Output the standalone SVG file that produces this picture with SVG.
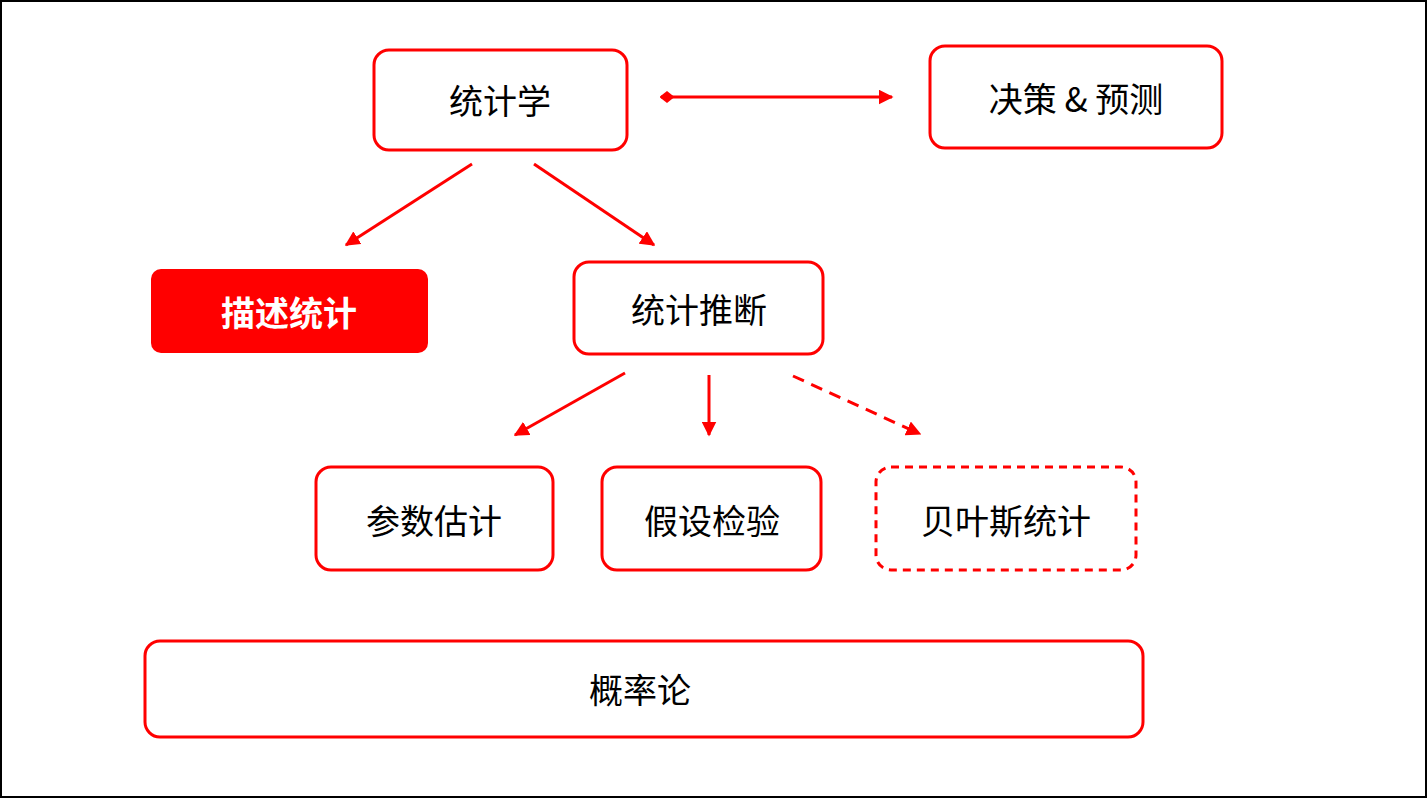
<svg xmlns="http://www.w3.org/2000/svg" width="1427" height="798" viewBox="0 0 1427 798">
<style>
.n{fill:#fff;stroke:#f00;stroke-width:3}
.t{font-family:"Noto Sans CJK SC","Noto Sans",sans-serif;font-size:34px;fill:#000;text-anchor:middle;dominant-baseline:central}
.c{stroke:#f00;stroke-width:3;fill:none;marker-end:url(#a)}
</style>
<defs>
<marker id="a" viewBox="0 0 10 10" refX="9" refY="5" markerWidth="5" markerHeight="5" orient="auto"><path d="M0,0L10,5L0,10z" fill="#f00"/></marker>
<marker id="d" viewBox="0 0 10 10" refX="1" refY="5" markerWidth="5" markerHeight="5" orient="auto"><path d="M0,5L5,1L10,5L5,9z" fill="#f00"/></marker>
</defs>
<rect x="1" y="1" width="1425" height="796" fill="#fff" stroke="#000" stroke-width="2"/>
<g id="connectors">
<line class="c" x1="661" y1="97" x2="892" y2="97" marker-start="url(#d)"/>
<line class="c" x1="472" y1="164" x2="346" y2="245"/>
<line class="c" x1="534" y1="164" x2="654" y2="245"/>
<line class="c" x1="625" y1="373" x2="515" y2="435"/>
<line class="c" x1="709" y1="375" x2="709" y2="435"/>
<line class="c" x1="793" y1="376" x2="920" y2="434" stroke-dasharray="12,8"/>
</g>
<g id="n1"><rect class="n" x="374" y="50" width="253" height="100" rx="15"/><text class="t" x="500" y="99">统计学</text></g>
<g id="n2"><rect class="n" x="930" y="46" width="292" height="102" rx="15"/><text class="t" x="1076" y="97">决策 &amp; 预测</text></g>
<g id="n3"><rect x="151" y="269" width="277" height="84" rx="10" fill="#f00"/><text class="t" x="289" y="311" fill="#fff" style="fill:#fff;font-weight:bold">描述统计</text></g>
<g id="n4"><rect class="n" x="574" y="262" width="249" height="92" rx="15"/><text class="t" x="699" y="308">统计推断</text></g>
<g id="n5"><rect class="n" x="316" y="467" width="237" height="103" rx="15"/><text class="t" x="434" y="519">参数估计</text></g>
<g id="n6"><rect class="n" x="602" y="467" width="219" height="103" rx="15"/><text class="t" x="712" y="519">假设检验</text></g>
<g id="n7"><rect class="n" x="876" y="467" width="260" height="103" rx="15" stroke-dasharray="8,6"/><text class="t" x="1006" y="519">贝叶斯统计</text></g>
<g id="n8"><rect class="n" x="145" y="641" width="998" height="96" rx="15"/><text class="t" x="640" y="688">概率论</text></g>
</svg>
